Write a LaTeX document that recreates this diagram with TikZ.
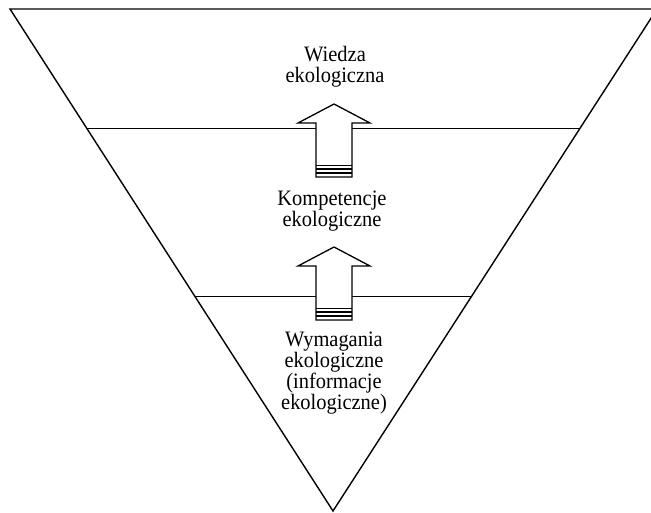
\documentclass[tikz,border=0pt]{standalone}
\usepackage{fontspec}
\setmainfont{Liberation Serif}[FakeStretch=0.93]
\usetikzlibrary{calc}

\begin{document}
\begin{tikzpicture}[x=1pt, y=-1pt,
        lbl/.style={align=center, inner sep=0pt, anchor=base, font=\fontsize{22}{21}\selectfont},
        lvl/.style={black, line width=1pt}]
        \clip (0,0) rectangle (651,513);
        % triangle
        \coordinate (tl) at (10,9);
        \coordinate (tr) at (657,9);
        \coordinate (apex) at (333,511);
        \draw[black, line width=1.4pt] (tl) -- (tr) -- (apex) -- cycle;
        % levels
        \coordinate (l1a) at ($(tl)!0.239!(apex)$);
        \coordinate (l1b) at ($(tr)!0.239!(apex)$);
        \coordinate (l2a) at ($(tl)!0.572!(apex)$);
        \coordinate (l2b) at ($(tr)!0.572!(apex)$);
        \draw[lvl] (l1a) -- (l1b);
        \draw[lvl] (l2a) -- (l2b);
        % arrows
        \foreach \b in {177, 320}{
            \filldraw[fill=white, draw=black, line width=1.3pt] (316,\b) -- (316,\b-54) -- (298,\b-54) -- (334,\b-73) -- (370,\b-54) -- (352,\b-54) -- (352,\b) -- cycle;
            \draw[black, line width=0.8pt] (316,\b-12) -- (352,\b-12);
            \draw[black, line width=1.2pt] (316,\b-8) -- (352,\b-8);
            \draw[black, line width=1.2pt] (316,\b-4) -- (352,\b-4);
        }
        \node[lbl] (wiedza) at (335,83) {Wiedza\\ekologiczna};
        \node[lbl] (kompetencje) at (332,227) {Kompetencje\\ekologiczne};
        \node[lbl] (wymagania) at (334,409) {Wymagania\\ekologiczne\\(informacje\\ekologiczne)};
    \end{tikzpicture}
\end{document}
